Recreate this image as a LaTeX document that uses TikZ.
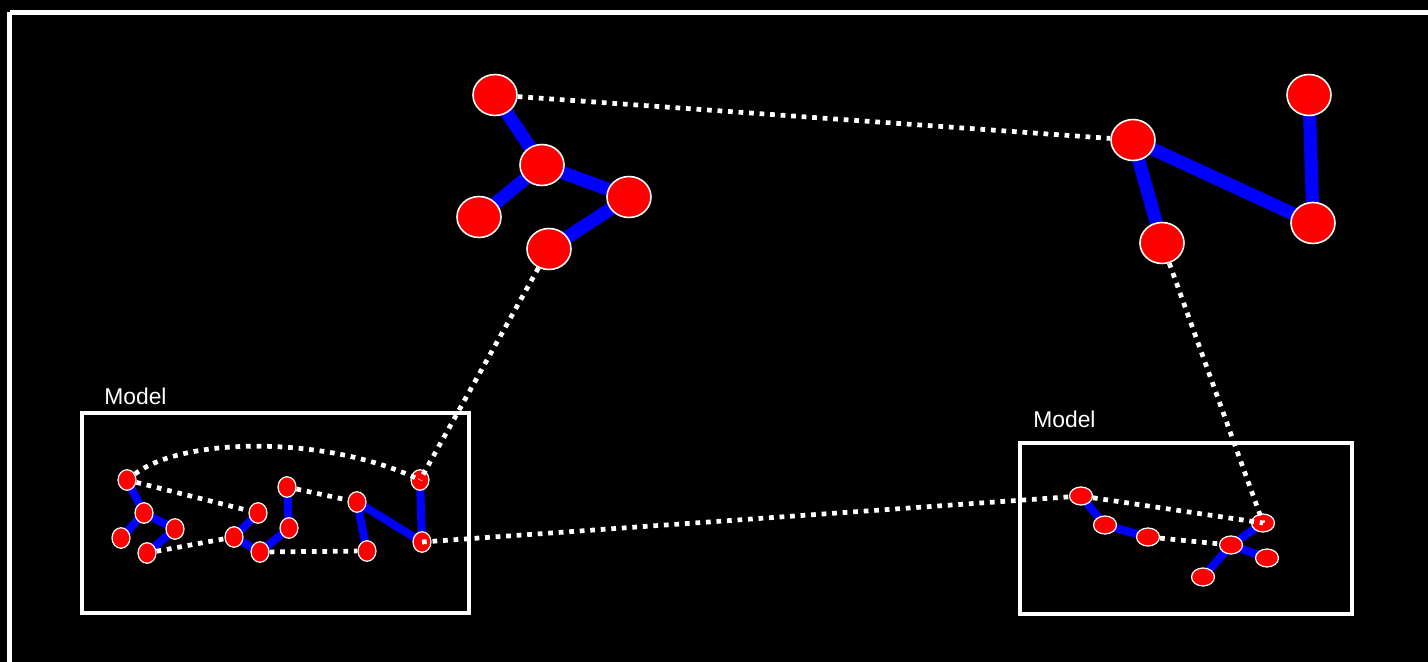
\documentclass[tikz,border=0pt]{standalone}
\usepackage{fontspec}
\setmainfont{Liberation Sans}
\usetikzlibrary{shapes.geometric}
\pgfdeclarelayer{back}
\pgfdeclarelayer{edges}
\pgfsetlayers{back,edges,main}
\tikzset{
  big/.style={ellipse,draw=white,line width=0.9pt,fill=red,minimum width=0.88cm,minimum height=0.82cm,inner sep=0pt},
  smallL/.style={ellipse,draw=white,line width=0.7pt,fill=red,minimum width=0.36cm,minimum height=0.41cm,inner sep=0pt},
  smallR/.style={ellipse,draw=white,line width=0.7pt,fill=red,minimum width=0.46cm,minimum height=0.36cm,inner sep=0pt},
  bigedge/.style={draw=blue,line width=7.5pt},
  smalledge/.style={draw=blue,line width=4.6pt},
  dots/.style={draw=white,line width=2.7pt,dash pattern=on 2.7pt off 3.3pt},
  frame/.style={draw=white,line width=2.6pt},
  lbl/.style={text=white,font=\fontsize{13}{15}\selectfont,inner sep=0pt,anchor=west}
}
\begin{document}
\begin{tikzpicture}[x=0.02cm,y=-0.02cm]
\begin{pgfonlayer}{back}
\fill[black] (0,0) rectangle (1428,662);
\end{pgfonlayer}
\useasboundingbox (0,0) rectangle (1428,662);
\begin{pgfonlayer}{back}
\draw[draw=white,line width=2.9pt] (9.5,12.5) -- (1450,12.5);
\draw[draw=white,line width=2.9pt] (9.5,12.5) -- (9.5,700);
\draw[frame] (82,413) rectangle (469,613);
\draw[frame] (1020,443) rectangle (1352,614);
\end{pgfonlayer}
\node[lbl] (ml) at (104,396) {Model};
\node[lbl] (mr) at (1033,419) {Model};
% top left graph
\node[big] (A1) at (495,95) {};
\node[big] (A2) at (542,165) {};
\node[big] (A3) at (479,217) {};
\node[big] (A4) at (629,197) {};
\node[big] (A5) at (549,249) {};
% top right graph
\node[big] (B1) at (1133,140) {};
\node[big] (B2) at (1309,95) {};
\node[big] (B3) at (1313,223) {};
\node[big] (B4) at (1162,243) {};
% left model
\node[smallL] (l1) at (127,480) {};
\node[smallL] (l2) at (144,513) {};
\node[smallL] (l3) at (175,529) {};
\node[smallL] (l4) at (121,538) {};
\node[smallL] (l5) at (147,553) {};
\node[smallL] (l6) at (258,513) {};
\node[smallL] (l7) at (234,537) {};
\node[smallL] (l8) at (260,552) {};
\node[smallL] (l9) at (289,528) {};
\node[smallL] (l10) at (287,487) {};
\node[smallL] (l11) at (357,502) {};
\node[smallL] (l12) at (367,551) {};
\node[smallL] (l13) at (420,480) {};
\node[smallL] (l14) at (422,542) {};
% right model
\node[smallR] (r1) at (1081,496) {};
\node[smallR] (r2) at (1105,525) {};
\node[smallR] (r3) at (1148,537) {};
\node[smallR] (r4) at (1263,523) {};
\node[smallR] (r5) at (1231,545) {};
\node[smallR] (r6) at (1267,558) {};
\node[smallR] (r7) at (1203,577) {};
\begin{pgfonlayer}{edges}
\draw[bigedge] (A1.center) -- (A2.center);
\draw[bigedge] (A2.center) -- (A3.center);
\draw[bigedge] (A2.center) -- (A4.center);
\draw[bigedge] (A4.center) -- (A5.center);
\draw[bigedge] (B1.center) -- (B3.center);
\draw[bigedge] (B2.center) -- (B3.center);
\draw[bigedge] (B1.center) -- (B4.center);
\draw[smalledge] (l1.center) -- (l2.center);
\draw[smalledge] (l2.center) -- (l4.center);
\draw[smalledge] (l2.center) -- (l3.center);
\draw[smalledge] (l3.center) -- (l5.center);
\draw[smalledge] (l6.center) -- (l7.center);
\draw[smalledge] (l7.center) -- (l8.center);
\draw[smalledge] (l8.center) -- (l9.center);
\draw[smalledge] (l9.center) -- (l10.center);
\draw[smalledge] (l11.center) -- (l12.center);
\draw[smalledge] (l11.center) -- (l14.center);
\draw[smalledge] (l13.center) -- (l14.center);
\draw[smalledge] (r1.center) -- (r2.center);
\draw[smalledge] (r2.center) -- (r3.center);
\draw[smalledge] (r4.center) -- (r5.center);
\draw[smalledge] (r5.center) -- (r6.center);
\draw[smalledge] (r5.center) -- (r7.center);
\end{pgfonlayer}
% dotted links
\draw[dots] (A1) -- (B1);
\draw[dots] (A5) -- (l13.center);
\draw[dots] (B4) -- (r4.center);
\draw[dots] (l14.center) -- (r1);
\draw[dots] (l1) .. controls (185,436) and (330,436) .. (l13.center);
\draw[dots] (l1) -- (l6);
\draw[dots] (l5) -- (l7);
\draw[dots] (l8) -- (l12);
\draw[dots] (l10) -- (l11);
\draw[dots] (r1) -- (r4.center);
\draw[dots] (r3) -- (r5);
\end{tikzpicture}
\end{document}
